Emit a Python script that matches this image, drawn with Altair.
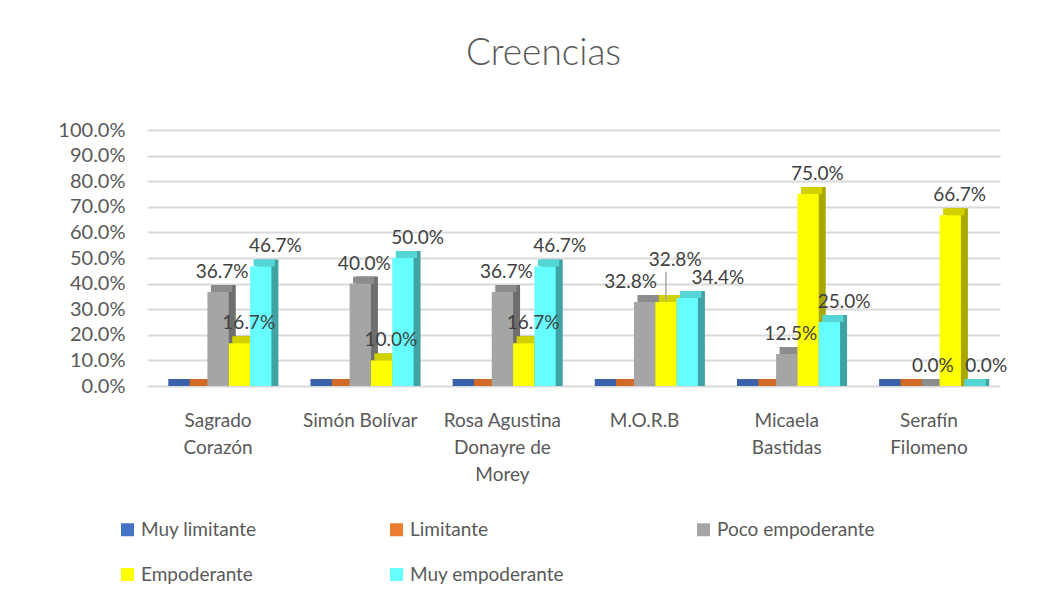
import altair as alt
import pandas as pd

categorias = ["Sagrado|Corazón", "Simón Bolívar", "Rosa Agustina|Donayre de|Morey",
              "M.O.R.B", "Micaela|Bastidas", "Serafín|Filomeno"]
series = ["Muy limitante", "Limitante", "Poco empoderante", "Empoderante", "Muy empoderante"]

muy_limitante = [0.0, 0.0, 0.0, 0.0, 0.0, 0.0]
limitante = [0.0, 0.0, 0.0, 0.0, 0.0, 0.0]
poco_empoderante = [0.367, 0.400, 0.367, 0.328, 0.125, 0.000]
empoderante = [0.167, 0.100, 0.167, 0.328, 0.750, 0.667]
muy_empoderante = [0.467, 0.500, 0.467, 0.344, 0.250, 0.000]
marcas_y = [0.0, 0.1, 0.2, 0.3, 0.4, 0.5, 0.6, 0.7, 0.8, 0.9, 1.0]

colores = ["#4472C4", "#ED7D31", "#A5A5A5", "#FFFF00", "#66FFFF"]
colores_lado = ["#2F528F", "#B05A1E", "#6E6E6E", "#A8A800", "#3FA3A3"]
colores_tapa = ["#3A62AC", "#D06A25", "#8C8C8C", "#D2D200", "#55D6D6"]
series_con_etiqueta = ["Poco empoderante", "Empoderante", "Muy empoderante"]

valores = [muy_limitante, limitante, poco_empoderante, empoderante, muy_empoderante]
rows = []
for s, serie in enumerate(series):
    for c, cat in enumerate(categorias):
        rows.append({"cat": cat, "serie": serie, "valor": valores[s][c],
                     "lado": colores_lado[s], "tapa": colores_tapa[s]})
df = pd.DataFrame(rows)

# labels of a group that would collide (values close together) are spread apart
junto = [abs(poco_empoderante[c] - empoderante[c]) < 0.03 and
         abs(muy_empoderante[c] - empoderante[c]) < 0.03 for c in range(len(categorias))]
df["junto"] = [junto[categorias.index(c)] for c in df["cat"]]
df["y_etq"] = df["valor"] + df.apply(
    lambda r: 0.085 if (r["junto"] and r["serie"] == "Empoderante") else 0.0, axis=1)

FONT = "Lato"
GRAY = "#595959"
W, H = 853, 256
PAD_L, PAD_T = 139, 122
P_IN, P_OUT = 0.25, 0.125
step = W / (len(categorias) - P_IN + 2 * P_OUT)
BAND = step * (1 - P_IN)
D = 7  # 3D depth

x_enc = alt.X("cat:N", sort=categorias, title=None,
              scale=alt.Scale(paddingInner=P_IN, paddingOuter=P_OUT),
              axis=alt.Axis(labelExpr="split(datum.label, '|')", labelAngle=0,
                            labelFontSize=19, labelColor=GRAY, labelFont=FONT,
                            labelLineHeight=27, labelPadding=25, labelBaseline="top",
                            domain=False, ticks=False, grid=False))


def xoff(shift):
    return alt.XOffset("serie:N", sort=series,
                       scale=alt.Scale(domain=series, range=[shift, BAND + shift],
                                       paddingInner=0, paddingOuter=0))


y_scale = alt.Scale(domain=[0, 1])
eje_y = alt.Axis(values=marcas_y, format=".1%", title=None,
                 labelFontSize=20, labelColor=GRAY, labelFont=FONT,
                 labelPadding=22, domain=False, ticks=False, labelOverlap=False,
                 grid=True, gridColor="#D9D9D9", gridWidth=2)


def y_of(field):
    return alt.Y(field, scale=y_scale, title=None, axis=eje_y)


base = alt.Chart(df)

lado = base.mark_bar(yOffset=-D, y2Offset=0).encode(
    x=x_enc, xOffset=xoff(D), y=y_of("valor:Q"), y2=alt.datum(0),
    color=alt.Color("lado:N", scale=None))

tapa = base.mark_bar(yOffset=-D, y2Offset=0).encode(
    x=x_enc, xOffset=xoff(D / 2), y=y_of("valor:Q"), y2=alt.Y2("valor:Q"),
    color=alt.Color("tapa:N", scale=None))

frente = base.mark_bar().encode(
    x=x_enc, xOffset=xoff(0), y=y_of("valor:Q"),
    color=alt.Color("serie:N", sort=series,
                    scale=alt.Scale(domain=series, range=colores),
                    legend=alt.Legend(title=None, orient="none", legendX=-29, legendY=390,
                                      direction="horizontal", columns=3,
                                      symbolType="square", symbolSize=169,
                                      symbolStrokeWidth=0, labelFontSize=19,
                                      labelColor=GRAY, labelFont=FONT, labelOffset=4,
                                      columnPadding=130, rowPadding=25, labelLimit=300,
                                      padding=0)))

etq = base.transform_filter(
    alt.FieldOneOfPredicate(field="serie", oneOf=series_con_etiqueta))


def etiquetas(filtro, dx):
    return etq.transform_filter(filtro).mark_text(
        baseline="bottom", dy=-10, dx=dx, fontSize=19, font=FONT, color="#404040"
    ).encode(x=x_enc, xOffset=xoff(0), y=y_of("y_etq:Q"),
             text=alt.Text("valor:Q", format=".1%"))


etq_normal = etiquetas("!datum.junto", 4)
etq_izq = etiquetas("datum.junto && datum.serie == 'Poco empoderante'", -14)
etq_med = etiquetas("datum.junto && datum.serie == 'Empoderante'", 4)
etq_der = etiquetas("datum.junto && datum.serie == 'Muy empoderante'", 20)

guia = etq.transform_filter("datum.junto && datum.serie == 'Empoderante'").mark_rule(
    color="#A6A6A6", strokeWidth=1.5, xOffset=4, yOffset=-2, y2Offset=-8).encode(
    x=x_enc, xOffset=xoff(0), y=y_of("valor:Q"),
    y2=alt.Y2("y_etq:Q"))

chart = alt.layer(lado, tapa, frente, guia, etq_normal, etq_izq, etq_med, etq_der).resolve_scale(
    xOffset="independent"
).properties(
    width=W, height=H,
    padding={"left": PAD_L, "top": PAD_T, "right": 20, "bottom": 200},
    autosize=alt.AutoSizeParams(type="none"),
    title=alt.TitleParams("Creencias", fontSize=37, font=FONT, color=GRAY,
                          fontWeight=300, anchor="middle", dx=-30, offset=47),
).configure_view(stroke=None)

chart.save("out.html", embed_options={"renderer": "svg", "actions": False})
